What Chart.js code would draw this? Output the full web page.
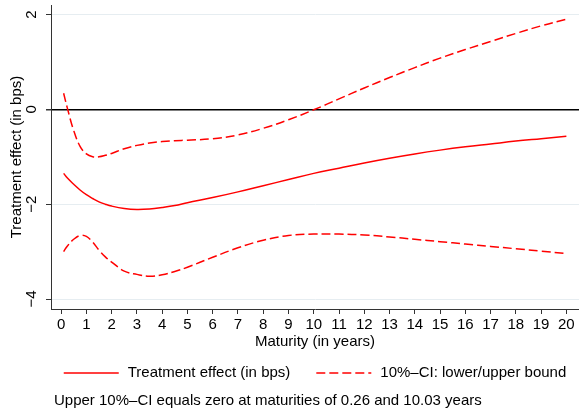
<!DOCTYPE html>
<html>
<head>
<meta charset="utf-8">
<script src="https://cdn.jsdelivr.net/npm/chart.js@4/dist/chart.umd.min.js"></script>
<style>
    html, body { margin: 0; padding: 0; background: #fff; }
</style>
</head>
<body>
<canvas id="myChart" width="579" height="415"></canvas>
<script>
// Maturity grid (years) and estimated curves (bps)
const maturity = [0.1, 0.25, 0.5, 0.75, 1, 1.25, 1.5, 1.75, 2, 2.5, 3, 3.5, 4, 4.5, 5,
    6, 7, 8, 9, 10, 11, 12, 13, 14, 15, 16, 17, 18, 19, 20];
const effect = [-1.35, -1.45, -1.58, -1.70, -1.80, -1.88, -1.95, -2.00, -2.04, -2.09, -2.11, -2.10, -2.07, -2.03, -1.97,
    -1.86, -1.74, -1.61, -1.48, -1.35, -1.24, -1.13, -1.03, -0.94, -0.86, -0.79, -0.73, -0.67, -0.62, -0.57];
const upperCI = [0.34, 0.02, -0.45, -0.78, -0.94, -1.00, -1.00, -0.97, -0.93, -0.83, -0.76, -0.71, -0.68, -0.66, -0.65,
    -0.62, -0.54, -0.40, -0.22, -0.01, 0.22, 0.45, 0.67, 0.88, 1.08, 1.26, 1.43, 1.60, 1.76, 1.90];
const lowerCI = [-3.00, -2.88, -2.74, -2.66, -2.68, -2.80, -2.97, -3.11, -3.22, -3.41, -3.48, -3.52, -3.49, -3.42, -3.33,
    -3.12, -2.92, -2.76, -2.66, -2.63, -2.63, -2.65, -2.69, -2.74, -2.79, -2.84, -2.89, -2.94, -2.99, -3.04];

const xTicks = [0, 1, 2, 3, 4, 5, 6, 7, 8, 9, 10, 11, 12, 13, 14, 15, 16, 17, 18, 19, 20];
const yTicks = [-4, -2, 0, 2];

const legendLabels = ['Treatment effect (in bps)', '10%\u2013CI: lower/upper bound'];
const noteText = 'Upper 10%\u2013CI equals zero at maturities of 0.26 and 10.03 years';

const FONT = '"Liberation Sans", Arial, Helvetica, sans-serif';
const RED = '#ff0000';
const DASH = [9, 4];

function toPoints(ys) {
    return maturity.map((m, i) => ({ x: m, y: ys[i] }));
}

function fmtY(v) {
    return v < 0 ? '\u2212' + Math.abs(v) : String(v);
}

// rotated y tick labels, legend and note
const decorPlugin = {
    id: 'decor',
    afterDraw(chart) {
        const { ctx, chartArea } = chart;
        const y = chart.scales.y;
        ctx.save();
        ctx.fillStyle = '#000';
        ctx.font = '15px ' + FONT;
        ctx.textAlign = 'center';
        ctx.textBaseline = 'middle';
        yTicks.forEach(v => {
            ctx.save();
            ctx.translate(32, y.getPixelForValue(v));
            ctx.rotate(-Math.PI / 2);
            ctx.fillText(fmtY(v), 0, 0);
            ctx.restore();
        });

        // legend
        const sample = 55, gap = 9, between = 26, ly = 373;
        const w1 = ctx.measureText(legendLabels[0]).width;
        const w2 = ctx.measureText(legendLabels[1]).width;
        const total = sample + gap + w1 + between + sample + gap + w2;
        let x = (chartArea.left + chartArea.right) / 2 - total / 2;
        const items = [
            { text: legendLabels[0], w: w1, ds: chart.data.datasets[0] },
            { text: legendLabels[1], w: w2, ds: chart.data.datasets[1] }
        ];
        ctx.textAlign = 'left';
        items.forEach(it => {
            ctx.strokeStyle = it.ds.borderColor;
            ctx.lineWidth = it.ds.borderWidth;
            ctx.setLineDash(it.ds.borderDash || []);
            ctx.beginPath();
            ctx.moveTo(x, ly);
            ctx.lineTo(x + sample, ly);
            ctx.stroke();
            ctx.setLineDash([]);
            ctx.fillText(it.text, x + sample + gap, ly);
            x += sample + gap + it.w + between;
        });

        // note
        ctx.fillText(noteText, 54, 401);
        ctx.restore();
    }
};

new Chart(document.getElementById('myChart'), {
    type: 'line',
    data: {
        datasets: [
            {
                label: legendLabels[0],
                data: toPoints(effect),
                borderColor: RED,
                borderWidth: 1.5,
                pointRadius: 0,
                tension: 0.4,
                fill: false
            },
            {
                label: legendLabels[1],
                data: toPoints(upperCI),
                borderColor: RED,
                borderWidth: 1.5,
                borderDash: DASH,
                pointRadius: 0,
                tension: 0.4,
                fill: false
            },
            {
                label: 'lower',
                data: toPoints(lowerCI),
                borderColor: RED,
                borderWidth: 1.5,
                borderDash: DASH,
                pointRadius: 0,
                tension: 0.4,
                fill: false
            }
        ]
    },
    options: {
        responsive: false,
        animation: false,
        layout: { padding: { top: 5, right: 0, left: 0, bottom: 62 } },
        plugins: {
            legend: { display: false },
            tooltip: { enabled: false }
        },
        scales: {
            x: {
                type: 'linear',
                min: -0.4,
                max: 20.5,
                afterBuildTicks: s => { s.ticks = xTicks.map(v => ({ value: v })); },
                afterFit: s => { s.height = 44; },
                ticks: { font: { size: 15, family: FONT }, color: '#000', padding: 2, maxRotation: 0, autoSkip: false },
                grid: { drawOnChartArea: false, tickLength: 5, tickColor: '#333' },
                border: { color: '#333', width: 1 },
                title: {
                    display: true, text: 'Maturity (in years)', color: '#000',
                    font: { size: 15, family: FONT }, padding: { top: 0, bottom: 2.5 }
                }
            },
            y: {
                min: -4.21,
                max: 2.2,
                afterBuildTicks: s => { s.ticks = yTicks.map(v => ({ value: v })); },
                afterFit: s => { s.width = 51; },
                ticks: { display: false },
                grid: {
                    color: c => (c.tick && c.tick.value === 0) ? '#000' : '#e6edf1',
                    lineWidth: c => (c.tick && c.tick.value === 0) ? 1.5 : 1,
                    tickColor: '#333',
                    tickLength: 5
                },
                border: { color: '#333', width: 1 },
                title: {
                    display: true, text: 'Treatment effect (in bps)', color: '#000',
                    font: { size: 15, family: FONT }, padding: { top: 7.5, bottom: 0 }
                }
            }
        }
    },
    plugins: [decorPlugin]
});
</script>
</body>
</html>
